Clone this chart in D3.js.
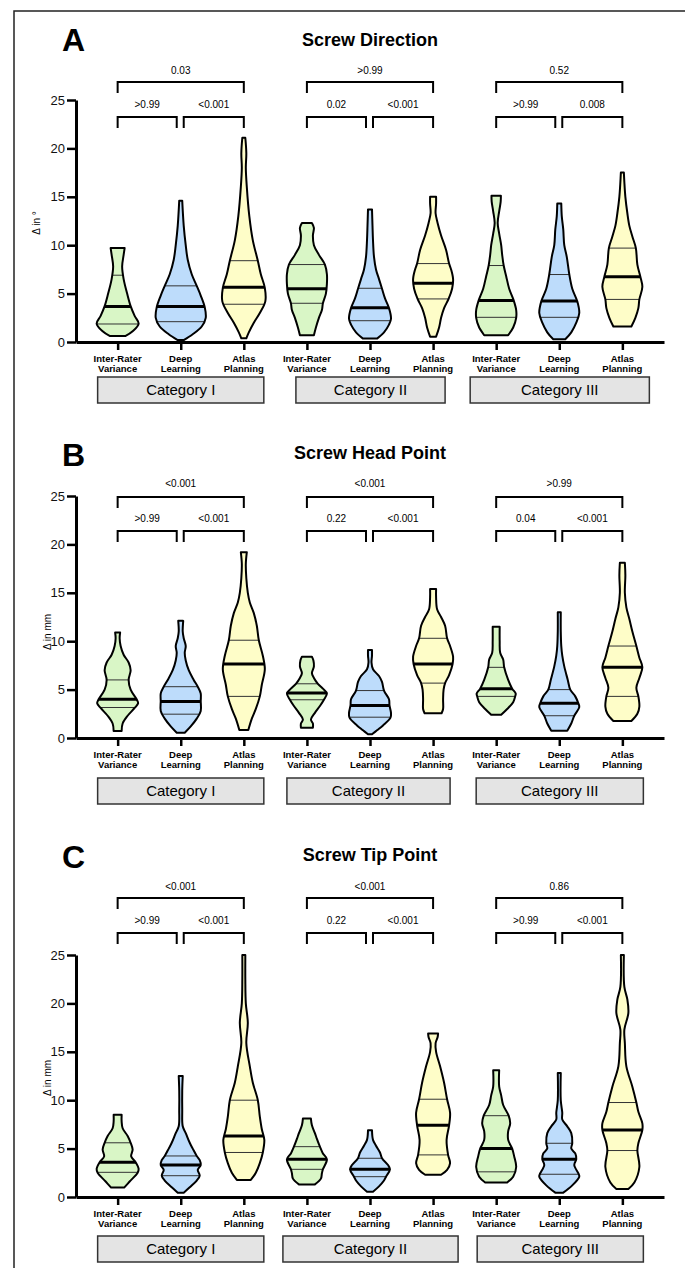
<!DOCTYPE html>
<html>
<head>
<meta charset="utf-8">
<script src="https://cdn.jsdelivr.net/npm/d3@7"></script>
<style>
  body { margin: 0; background: #fff; }
  svg { display: block; font-family: "Liberation Sans", Arial, sans-serif; }
</style>
</head>
<body>
<svg width="685" height="1268"></svg>
<script>
const svg = d3.select('svg')

// ---- data ----
const groups = ['Inter-Rater Variance', 'Deep Learning', 'Atlas Planning']
const groupLines = [['Inter-Rater', 'Variance'], ['Deep', 'Learning'], ['Atlas', 'Planning']]
const categories = ['Category I', 'Category II', 'Category III']
const panelLetters = ['A', 'B', 'C']
const titles = ['Screw Direction', 'Screw Head Point', 'Screw Tip Point']
const yLabels = ['Δ in °', 'Δ in mm', 'Δ in mm']
const yTicks = [0, 5, 10, 15, 20, 25]

// p values per category: [IRV vs AP, IRV vs DL, DL vs AP]
const pA = [['0.03', '>0.99', '<0.001'], ['>0.99', '0.02', '<0.001'], ['0.52', '>0.99', '0.008']]
const pB = [['<0.001', '>0.99', '<0.001'], ['<0.001', '0.22', '<0.001'], ['>0.99', '0.04', '<0.001']]
const pC = [['<0.001', '>0.99', '<0.001'], ['<0.001', '0.22', '<0.001'], ['0.86', '>0.99', '<0.001']]

// quartiles [q1, median, q3] for the 9 violins (IRV, DL, AP) x (Cat I, II, III)
const quartA = [[1.86, 3.66, 6.9], [2.1, 3.66, 5.8], [3.9, 5.65, 8.4],
  [4.0, 5.5, 8.0], [2.2, 3.55, 5.55], [4.45, 6.07, 8.1],
  [2.55, 4.3, 7.9], [2.55, 4.24, 6.97], [4.4, 6.75, 9.7]]
const quartB = [[3.15, 4.0, 6.0], [2.46, 3.77, 5.3], [4.3, 7.65, 10.1],
  [3.95, 4.64, 5.6], [2.15, 3.36, 4.9], [5.67, 7.65, 10.3],
  [4.3, 5.1, 7.3], [2.3, 3.6, 5.0], [4.3, 7.3, 9.5]]
const quartC = [[2.55, 3.6, 5.6], [2.2, 3.3, 4.24], [4.6, 6.3, 10.0],
  [2.86, 3.9, 5.2], [2.1, 2.86, 4.0], [4.35, 7.4, 10.1],
  [2.6, 5.0, 8.4], [2.35, 3.9, 5.55], [4.8, 6.93, 9.76]]

// violin outlines: [value, density] from bottom to top
const shapeA = [
  [[0.62, 8], [1.1, 15], [1.9, 21], [2.7, 17], [3.7, 13], [5, 9.5], [6.5, 6], [7.8, 4.5], [9, 6], [9.7, 7]],
  [[0.2, 3], [0.8, 12], [1.6, 21], [2.5, 25], [3.6, 24], [4.8, 20], [5.8, 16], [7, 11], [8.5, 7], [10, 5], [12, 3], [14.6, 1.5]],
  [[0.38, 2.5], [1, 5], [2, 10], [3, 16], [4.2, 21.5], [5.6, 21], [7, 17], [8.4, 14], [10.5, 9], [13, 5.5], [16, 3], [18, 2], [19.5, 2.5], [21.1, 1.5]],
  [[0.7, 7], [1.5, 9], [2.5, 12], [3.3, 15], [4, 16], [5, 19], [6, 20], [7, 20], [8, 18], [9, 12], [10, 7], [11, 6], [11.8, 7], [12.3, 5]],
  [[0.35, 7], [1, 14], [1.8, 19], [2.4, 21], [3.5, 19], [4.5, 15], [5.5, 12], [6.5, 9], [7.5, 6], [8.8, 4], [10.5, 3], [12, 2.5], [13.7, 2]],
  [[0.55, 3], [1.5, 6], [2.5, 8], [3.5, 11], [4.45, 15.5], [5.5, 19], [6.5, 20], [7.5, 18], [8.1, 16], [9.5, 13], [11, 8], [12.3, 4.5], [13.3, 2.5], [14.3, 3], [15, 3]],
  [[0.7, 12], [1.5, 17], [2.5, 20], [3.3, 20], [4.3, 17.5], [5.5, 13], [6.8, 10], [7.9, 7.5], [9, 6], [10, 5], [11.2, 3], [12.3, 1.5], [13.5, 3], [14.5, 4.5], [15.1, 4.7]],
  [[0.28, 6], [1, 12], [2, 17], [3, 20], [4.2, 18], [5.5, 13], [7, 10], [8.8, 7.5], [10, 5], [11.6, 4], [13, 2.5], [14.3, 2]],
  [[1.6, 9], [2.5, 13], [3.5, 16], [4.4, 17], [5.7, 20], [6.75, 18], [8, 15], [9.7, 13.5], [10.9, 10], [12, 7], [13.3, 5], [15, 3], [16.5, 2], [17.5, 1.5]]
]
const shapeB = [
  [[0.73, 4], [1.5, 5], [2.3, 10], [3.1, 17], [3.6, 20.5], [4.0, 19], [5, 13], [6, 11], [7, 13], [7.8, 11], [8.6, 6], [9.5, 3], [10.3, 2], [10.9, 2.5]],
  [[0.55, 4], [1.2, 10], [2, 16], [2.8, 20], [3.8, 20], [4.6, 20], [5.3, 17], [6, 13], [7, 8], [8, 5], [8.8, 4], [9.5, 5], [10.3, 3], [11, 2], [12.1, 2.5]],
  [[0.83, 4.5], [2, 8], [3, 12], [4.3, 16], [5.5, 18], [7.1, 21], [8.5, 19], [10.1, 15], [11.6, 13], [12.9, 10], [14, 6], [15, 4], [16.5, 2.5], [18, 2], [19.2, 3]],
  [[1.07, 6], [1.5, 6], [1.9, 4], [2.6, 8], [3.3, 13], [3.95, 17], [4.6, 20], [5.1, 16], [5.6, 11], [6.2, 7], [6.7, 5], [7.4, 7], [8.0, 6.5], [8.4, 5]],
  [[0.38, 2], [0.8, 7], [1.3, 13], [2.1, 20.5], [2.6, 21], [3.36, 19.5], [4, 19], [4.9, 14], [5.8, 12], [6.4, 9], [7.1, 3], [7.8, 1.5], [8.5, 2], [9.1, 2]],
  [[2.56, 8.5], [3, 10], [4, 10], [5, 10.5], [5.67, 12], [6.5, 16], [7.65, 19.5], [8.4, 20], [9.5, 17], [10.3, 14], [11.6, 12], [12.5, 8], [13.3, 4], [14.5, 3], [15.4, 3]],
  [[2.4, 5], [3, 11], [3.7, 17], [4.3, 19], [4.6, 19.5], [5.1, 16], [6, 12], [7.3, 8], [8.1, 7], [8.8, 4], [10, 3.5], [11.5, 3.5]],
  [[0.76, 8], [1.5, 12], [2.3, 15], [3.2, 20], [3.6, 19], [4.3, 16], [5, 11], [6, 8.5], [7.4, 5], [8.5, 3], [9.5, 2], [11, 1.5], [13, 1.5]],
  [[1.76, 9], [2.5, 15], [3.25, 17], [4.3, 16], [5.2, 14], [6.2, 17], [7.3, 20], [8.3, 17], [9.5, 14], [11, 10], [12.3, 7], [13.5, 4], [15, 2.5], [16.8, 3], [18.1, 2.5]]
]
const shapeC = [
  [[0.97, 6.5], [1.6, 12], [2.5, 20], [2.9, 21], [3.6, 18], [4.2, 13.5], [4.9, 15], [5.6, 13], [6.3, 10], [7.1, 5], [7.8, 4], [8.5, 4]],
  [[0.45, 3], [1.0, 9], [1.7, 16], [2.2, 19], [2.8, 17], [3.3, 20], [3.8, 19], [4.24, 16], [5, 12], [5.6, 9], [6.6, 5], [7.3, 2], [9, 1.5], [11, 1.5], [12.5, 2]],
  [[1.76, 7], [2.5, 12], [3.5, 16], [4.6, 19], [5.9, 20.5], [7, 18], [8.3, 16], [10, 14], [11.8, 9], [13.5, 6], [15.9, 2.5], [18, 4], [20, 2], [22.5, 1.5], [25, 1.5]],
  [[1.3, 8], [1.9, 14], [2.45, 15], [2.86, 16], [3.9, 20], [4.5, 16], [5.2, 13], [6.0, 10], [6.6, 8], [7.4, 5], [8.1, 4]],
  [[0.55, 3], [1.1, 9], [1.7, 14], [2.1, 16], [2.86, 20], [3.3, 18], [4.0, 12], [4.6, 10], [5.3, 6], [5.9, 3], [6.9, 2]],
  [[2.3, 8], [2.8, 14], [3.5, 17], [4.35, 15], [5.9, 13.5], [7.4, 16], [8.7, 17], [10.1, 14], [11.8, 11], [13.5, 7], [15, 3], [15.9, 2.5], [16.5, 4.5], [16.9, 5]],
  [[1.5, 11], [2.1, 17], [3.1, 20], [4.2, 18], [5.0, 16], [5.9, 12], [6.8, 12], [7.6, 14], [8.4, 12.5], [9.5, 7], [10.5, 5], [11.4, 3], [13.1, 3]],
  [[0.45, 4], [1.2, 13], [2.1, 20], [2.35, 19.5], [3.3, 15], [3.9, 17], [4.5, 16], [5.0, 12], [5.55, 13], [6.6, 12], [7.3, 8], [8.0, 3], [8.7, 3], [10, 1.5], [12.8, 1.5]],
  [[0.83, 6], [1.5, 12], [3.1, 17], [4.8, 15], [5.55, 16], [6.93, 20], [7.6, 20], [8.8, 16], [9.76, 14], [11.4, 10], [13.5, 4], [15.9, 2.5], [17.3, 2], [19, 6], [20.4, 5], [21.7, 2], [25, 1.5]]
]

const pValues = [pA, pB, pC]
const quartiles = [quartA, quartB, quartC]
const shapes = [shapeA, shapeB, shapeC]

// ---- layout ----
const fills = ['#d9f6c6', '#bddcfb', '#fefdc8']
const layout = [
  { letterY: 40, titleY: 40, y0: 342, topText: 70, topBr: 82, lowText: 104, lowBr: 117, ylabX: 36, ylabY: 223, boxY: 377, boxPad: [[20, 20], [11, 12], [26, 27]] },
  { letterY: 455, titleY: 453, y0: 738, topText: 483, topBr: 497, lowText: 518, lowBr: 531, ylabX: 47, ylabY: 632, boxY: 778, boxPad: [[20, 20], [20, 17], [20, 21]] },
  { letterY: 857, titleY: 855, y0: 1197, topText: 886, topBr: 898, lowText: 920, lowBr: 933, ylabX: 47, ylabY: 1078, boxY: 1236, boxPad: [[20, 20], [24, 25], [19, 21]] }
]

const keys = d3.range(9)
const x = d3.scalePoint().domain(keys).range([76, 664]).padding(0.66)
const wScale = d3.scaleLinear().domain([0, 20]).range([0, 20])

// outer frame
svg.append('rect')
  .attr('x', 14).attr('y', 11)
  .attr('width', 700).attr('height', 1300)
  .attr('fill', 'none').attr('stroke', '#222').attr('stroke-width', 1.5)

layout.forEach((L, pi) => {
  const g = svg.append('g')
  const y = d3.scaleLinear().domain([0, 25]).range([L.y0, L.y0 - 242])

  g.append('text')
    .attr('x', 62).attr('y', L.letterY).attr('dy', '0.35em')
    .attr('font-size', 32).attr('font-weight', 'bold')
    .text(panelLetters[pi])

  g.append('text')
    .attr('x', 370).attr('y', L.titleY).attr('dy', '0.35em')
    .attr('text-anchor', 'middle')
    .attr('font-size', 18).attr('font-weight', 'bold')
    .text(titles[pi])

  // y axis
  const yAxis = g.append('g')
    .attr('transform', 'translate(76,0)')
    .call(d3.axisLeft(y).tickValues(yTicks).tickSize(9).tickSizeOuter(0).tickPadding(2))
  yAxis.select('.domain').attr('stroke', '#000').attr('stroke-width', 3)
  yAxis.selectAll('.tick line').attr('stroke', '#000').attr('stroke-width', 2.5)
  yAxis.selectAll('.tick text').attr('font-size', 13).attr('fill', '#111')
    .attr('font-family', '"Liberation Sans", Arial, sans-serif')

  g.append('text')
    .attr('transform', `translate(${L.ylabX},${L.ylabY}) rotate(-90)`)
    .attr('text-anchor', 'middle').attr('dy', '0.35em')
    .attr('font-size', 10)
    .text(yLabels[pi])

  // x axis
  const xAxis = g.append('g')
    .attr('transform', `translate(0,${L.y0})`)
    .call(d3.axisBottom(x).tickSize(8).tickSizeOuter(0).tickFormat(''))
  xAxis.select('.domain').attr('stroke', '#000').attr('stroke-width', 3)
  xAxis.selectAll('.tick line').attr('stroke', '#000').attr('stroke-width', 2.5)

  keys.forEach(k => {
    const lines = groupLines[k % 3]
    lines.forEach((t, li) => {
      g.append('text')
        .attr('x', x(k)).attr('y', L.y0 + 17 + li * 9.5).attr('dy', '0.35em')
        .attr('text-anchor', 'middle')
        .attr('font-size', 9.5).attr('font-weight', 'bold')
        .text(t)
    })
  })

  // category boxes
  categories.forEach((c, ci) => {
    const x1 = x(ci * 3) - L.boxPad[ci][0]
    const x2 = x(ci * 3 + 2) + L.boxPad[ci][1]
    g.append('rect')
      .attr('x', x1).attr('y', L.boxY)
      .attr('width', x2 - x1).attr('height', 26)
      .attr('fill', '#e4e4e4').attr('stroke', '#333').attr('stroke-width', 1.5)
    g.append('text')
      .attr('x', (x1 + x2) / 2).attr('y', L.boxY + 13).attr('dy', '0.35em')
      .attr('text-anchor', 'middle').attr('font-size', 15)
      .text(c)
  })

  // violins
  const violins = g.append('g')
  keys.forEach(k => {
    const cx = x(k)
    const shape = shapes[pi][k]
    const [q1, med, q3] = quartiles[pi][k]
    const area = d3.area()
      .y(d => y(d[0]))
      .x0(d => cx - wScale(d[1]))
      .x1(d => cx + wScale(d[1]))
      .curve(d3.curveCatmullRom.alpha(0.5))
    const id = `clip-${pi}-${k}`
    violins.append('clipPath').attr('id', id)
      .append('path').attr('d', area(shape))
    violins.append('path')
      .attr('d', area(shape))
      .attr('fill', fills[k % 3])
    const lines = violins.append('g').attr('clip-path', `url(#${id})`)
    ;[q1, q3].forEach(q => {
      lines.append('line')
        .attr('x1', cx - 30).attr('x2', cx + 30)
        .attr('y1', y(q)).attr('y2', y(q))
        .attr('stroke', '#333').attr('stroke-width', 1)
    })
    lines.append('line')
      .attr('x1', cx - 30).attr('x2', cx + 30)
      .attr('y1', y(med)).attr('y2', y(med))
      .attr('stroke', '#000').attr('stroke-width', 3)
    violins.append('path')
      .attr('d', area(shape))
      .attr('fill', 'none').attr('stroke', '#000').attr('stroke-width', 2)
      .attr('stroke-linejoin', 'round')
  })

  // significance brackets
  const bracket = (xa, xb, yb, legs) => {
    g.append('path')
      .attr('d', `M${xa},${yb + legs}V${yb}H${xb}V${yb + legs}`)
      .attr('fill', 'none').attr('stroke', '#000').attr('stroke-width', 2)
  }
  const label = (xm, yt, t) => {
    g.append('text')
      .attr('x', xm).attr('y', yt).attr('dy', '0.35em')
      .attr('text-anchor', 'middle').attr('font-size', 10)
      .text(t)
  }
  categories.forEach((c, ci) => {
    const [pTop, pLeft, pRight] = pValues[pi][ci]
    const xi = x(ci * 3), xd = x(ci * 3 + 1), xa = x(ci * 3 + 2)
    bracket(xi, xa, L.topBr, 11)
    label((xi + xa) / 2, L.topText, pTop)
    bracket(xi, xd - 4, L.lowBr, 11)
    label((xi + xd - 4) / 2, L.lowText, pLeft)
    bracket(xd + 3, xa, L.lowBr, 11)
    label((xd + 3 + xa) / 2, L.lowText, pRight)
  })
})
</script>
</body>
</html>
